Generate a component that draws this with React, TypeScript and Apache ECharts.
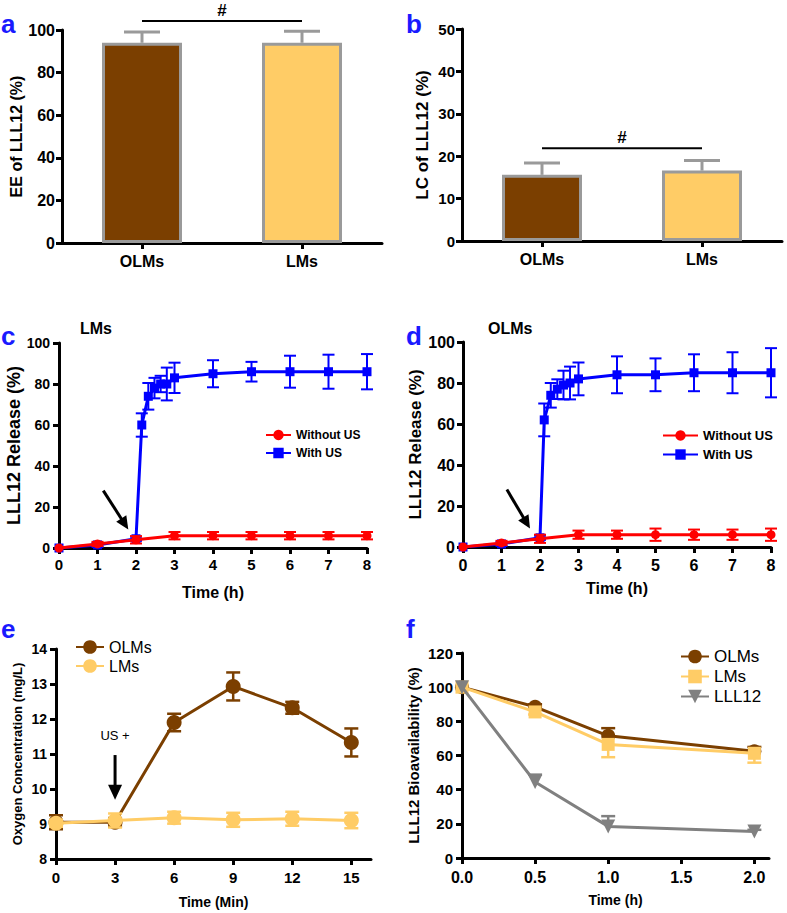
import React, { useEffect, useRef } from 'react';
import * as echarts from 'echarts';

const FONT = 'Arial, "Liberation Sans", Helvetica, sans-serif';
const BROWN = '#7B3F00';
const GOLD = '#FFCC66';
const BAR_EDGE = '#9A9A9A';
const RED = '#FF0000';
const BLUE = '#0000FF';
const GRAY = '#808080';
const LETTER_BLUE = '#1A1AFF';

// ---- panels a & b ----
const barCategories = ['OLMs', 'LMs'];
const eeMean = [94.0, 94.0];
const eeSD = [5.1, 5.4];
const lcMean = [15.6, 16.6];
const lcSD = [2.8, 2.4];

// ---- panel c (LMs) ----
const cTimeNoUS = [0, 1, 2, 3, 4, 5, 6, 7, 8];
const cNoUS = [0, 2, 4, 6, 6, 6, 6, 6, 6];
const cNoUSErr = [0, 1, 1.8, 1.8, 1.8, 1.8, 1.8, 1.8, 1.8];
const cTimeUS = [0, 1, 2, 2.15, 2.32, 2.48, 2.64, 2.8, 3, 4, 5, 6, 7, 8];
const cUS = [0, 1.5, 4.5, 60, 74, 78, 80, 80, 83, 85, 86, 86, 86, 86];
const cUSErr = [0, 1, 1, 5.7, 6.5, 5, 4, 8, 7.4, 6.6, 4.8, 7.8, 8.3, 8.6];

// ---- panel d (OLMs) ----
const dTimeNoUS = [0, 1, 2, 3, 4, 5, 6, 7, 8];
const dNoUS = [0, 2, 4, 6, 6, 6, 6, 6, 6];
const dNoUSErr = [0, 1, 2, 2, 2, 3, 2.5, 2.5, 3];
const dTimeUS = [0, 1, 2, 2.11, 2.28, 2.45, 2.61, 2.78, 3, 4, 5, 6, 7, 8];
const dUS = [0, 1.5, 4.5, 62, 74, 77, 79, 80, 82, 84, 84, 85, 85, 85];
const dUSErr = [0, 1, 1, 8, 6, 4.8, 7, 8, 8, 9, 8, 9, 10, 12];

// ---- panel e ----
const eTime = [0, 3, 6, 9, 12, 15];
const eOLMs = [9.05, 9.05, 11.9, 12.93, 12.32, 11.33];
const eOLMsErr = [0.2, 0.12, 0.25, 0.4, 0.17, 0.4];
const eLMs = [9.02, 9.1, 9.18, 9.12, 9.15, 9.1];
const eLMsErr = [0.1, 0.2, 0.17, 0.2, 0.2, 0.22];
const eXTicks = [0, 3, 6, 9, 12, 15];

// ---- panel f ----
const fTime = [0, 0.5, 1, 2];
const fOLMs = [100, 88.5, 71.5, 62.5];
const fOLMsErr = [0, 1.5, 4.5, 2.5];
const fLMs = [100, 85.5, 66.5, 61.3];
const fLMsErr = [0, 1.5, 7.5, 5.5];
const fLLL12 = [100, 44.5, 18.5, 15.5];
const fLLL12Err = [0, 4.3, 6, 1];
const fXTicks = [0, 0.5, 1, 1.5, 2];

const TRI_DOWN = 'path://M0,0L10,0L5,9Z';

function axisBase(gridIndex: number, labelSize: number, labelMargin: number) {
  return {
    gridIndex,
    axisLine: { show: true, onZero: false, lineStyle: { color: '#000', width: 3 } },
    axisTick: { show: true, inside: false, length: 6, lineStyle: { color: '#000', width: 3 } },
    axisLabel: {
      show: true, color: '#000', fontFamily: FONT, fontWeight: 'bold',
      fontSize: labelSize, margin: labelMargin,
    },
    splitLine: { show: false },
    splitArea: { show: false },
  };
}

function nameStyle(size: number) {
  return { fontSize: size, fontWeight: 'bold', color: '#000', fontFamily: FONT };
}

function errorSeries(ax: number, xs: number[], ys: number[], errs: number[], color: string,
  capHalf: number, lw: number, dir: 'up' | 'down' | 'both', z = 3) {
  return {
    type: 'custom', xAxisIndex: ax, yAxisIndex: ax, z, silent: true,
    data: xs.map((x, i) => [x, ys[i], errs[i]]),
    renderItem: (_p: any, api: any) => {
      const x = api.value(0), y = api.value(1), e = api.value(2);
      if (!e) return { type: 'group', children: [] };
      const hi = dir === 'down' ? y : y + e;
      const lo = dir === 'up' ? y : y - e;
      const a = api.coord([x, lo]);
      const b = api.coord([x, hi]);
      const st = { stroke: color, lineWidth: lw };
      const children: any[] = [
        { type: 'line', shape: { x1: a[0], y1: a[1], x2: b[0], y2: b[1] }, style: st },
      ];
      if (dir !== 'down') children.push({ type: 'line', shape: { x1: b[0] - capHalf, y1: b[1], x2: b[0] + capHalf, y2: b[1] }, style: st });
      if (dir !== 'up') children.push({ type: 'line', shape: { x1: a[0] - capHalf, y1: a[1], x2: a[0] + capHalf, y2: a[1] }, style: st });
      return { type: 'group', children };
    },
  };
}

function lineSeries(ax: number, name: string, xs: number[], ys: number[], color: string,
  symbol: string, size: number, z = 4) {
  return {
    type: 'line', name, xAxisIndex: ax, yAxisIndex: ax, z,
    data: xs.map((x, i) => [x, ys[i]]),
    symbol, symbolSize: size, showAllSymbol: true,
    lineStyle: { color, width: 3 },
    itemStyle: { color, borderWidth: 0 },
    emphasis: { disabled: true },
    silent: true,
  };
}

function sigSeries(ax: number, y: number) {
  return {
    type: 'custom', xAxisIndex: ax, yAxisIndex: ax, z: 5, silent: true,
    data: [[0, y, 1]],
    renderItem: (_p: any, api: any) => {
      const p1 = api.coord([api.value(0), api.value(1)]);
      const p2 = api.coord([api.value(2), api.value(1)]);
      return {
        type: 'group',
        children: [
          { type: 'line', shape: { x1: p1[0], y1: p1[1], x2: p2[0], y2: p2[1] }, style: { stroke: '#000', lineWidth: 2 } },
          {
            type: 'text', x: (p1[0] + p2[0]) / 2, y: p1[1] - 11,
            style: { text: '#', fill: '#000', font: `bold 17px ${FONT}`, textAlign: 'center', textVerticalAlign: 'middle', align: 'center', verticalAlign: 'middle' },
          },
        ],
      };
    },
  };
}

function arrowSeries(ax: number, pts: number[], headLen: number, headHalf: number, lw: number,
  label?: string, labelPos?: number[]) {
  return {
    type: 'custom', xAxisIndex: ax, yAxisIndex: ax, z: 6, silent: true,
    data: [pts],
    renderItem: (_p: any, api: any) => {
      const p1 = api.coord([api.value(0), api.value(1)]);
      const p2 = api.coord([api.value(2), api.value(3)]);
      const dx = p2[0] - p1[0], dy = p2[1] - p1[1];
      const len = Math.hypot(dx, dy) || 1;
      const ux = dx / len, uy = dy / len;
      const bx = p2[0] - ux * headLen, by = p2[1] - uy * headLen;
      const px = -uy, py = ux;
      const children: any[] = [
        { type: 'line', shape: { x1: p1[0], y1: p1[1], x2: bx + ux, y2: by + uy }, style: { stroke: '#000', lineWidth: lw } },
        {
          type: 'polygon',
          shape: { points: [[p2[0], p2[1]], [bx + px * headHalf, by + py * headHalf], [bx - px * headHalf, by - py * headHalf]] },
          style: { fill: '#000' },
        },
      ];
      if (label && labelPos) {
        const lp = api.coord(labelPos);
        children.push({
          type: 'text', x: lp[0], y: lp[1],
          style: { text: label, fill: '#000', font: `13px ${FONT}`, textAlign: 'center', textVerticalAlign: 'middle', align: 'center', verticalAlign: 'middle' },
        });
      }
      return { type: 'group', children };
    },
  };
}

function letter(t: string, x: number, y: number) {
  return {
    type: 'text', x, y, z: 10,
    style: { text: t, fill: LETTER_BLUE, font: `bold 26px ${FONT}`, textAlign: 'left', textVerticalAlign: 'middle', align: 'left', verticalAlign: 'middle' },
  };
}

function title(t: string, x: number, y: number) {
  return {
    type: 'text', x, y, z: 10,
    style: { text: t, fill: '#000', font: `bold 16px ${FONT}`, textAlign: 'left', textVerticalAlign: 'middle', align: 'left', verticalAlign: 'middle' },
  };
}

const stripName = (n: string) => n.slice(2);

function buildOption() {
  const b0 = axisBase(0, 16, 10);
  const b1 = axisBase(1, 16, 10);
  const xAxis: any[] = [
    { ...b0, type: 'category', data: barCategories, axisTick: { ...b0.axisTick, alignWithLabel: true } },
    { ...b1, type: 'category', data: barCategories, axisTick: { ...b1.axisTick, alignWithLabel: true } },
    { ...axisBase(2, 15, 9), type: 'value', min: 0, max: 8, interval: 1,
      name: 'Time (h)', nameLocation: 'middle', nameGap: 36, nameTextStyle: nameStyle(16) },
    { ...axisBase(3, 16, 10), type: 'value', min: 0, max: 8, interval: 1,
      name: 'Time (h)', nameLocation: 'middle', nameGap: 33, nameTextStyle: nameStyle(16) },
  ];
  const be = axisBase(4, 15, 11);
  xAxis.push({
    ...be, type: 'value', min: 0, max: 16,
    axisLabel: { ...be.axisLabel, customValues: eXTicks },
    axisTick: { ...be.axisTick, customValues: eXTicks },
    name: 'Time (Min)', nameLocation: 'middle', nameGap: 36, nameTextStyle: nameStyle(14),
  });
  const bf = axisBase(5, 16, 11);
  xAxis.push({
    ...bf, type: 'value', min: 0, max: 2.1,
    axisLabel: { ...bf.axisLabel, customValues: fXTicks, formatter: (v: number) => v.toFixed(1) },
    axisTick: { ...bf.axisTick, customValues: fXTicks },
    name: 'Time (h)', nameLocation: 'middle', nameGap: 35, nameTextStyle: nameStyle(14),
  });

  const yAxis: any[] = [
    { ...axisBase(0, 16, 7), type: 'value', min: 0, max: 100, interval: 20,
      name: 'EE of LLL12 (%)', nameLocation: 'middle', nameGap: 34, nameTextStyle: nameStyle(16) },
    { ...axisBase(1, 15, 7), type: 'value', min: 0, max: 50, interval: 10,
      name: 'LC of LLL12 (%)', nameLocation: 'middle', nameGap: 31, nameTextStyle: nameStyle(17) },
    { ...axisBase(2, 14, 9), type: 'value', min: 0, max: 100, interval: 20,
      name: 'LLL12 Release (%)', nameLocation: 'middle', nameGap: 32, nameTextStyle: nameStyle(18) },
    { ...axisBase(3, 16, 8), type: 'value', min: 0, max: 100, interval: 20,
      name: 'LLL12 Release (%)', nameLocation: 'middle', nameGap: 34, nameTextStyle: nameStyle(17) },
    { ...axisBase(4, 14, 9), type: 'value', min: 8, max: 14, interval: 1,
      name: 'Oxygen Concentration (mg/L)', nameLocation: 'middle', nameGap: 32, nameTextStyle: nameStyle(13) },
    { ...axisBase(5, 15, 9), type: 'value', min: 0, max: 120, interval: 20,
      name: 'LLL12 Bioavailability (%)', nameLocation: 'middle', nameGap: 41, nameTextStyle: nameStyle(15) },
  ];

  const barSeries = (ax: number, means: number[]) => ({
    type: 'bar', xAxisIndex: ax, yAxisIndex: ax, barWidth: 80, z: 2, silent: true,
    data: means.map((v, i) => ({ value: v, itemStyle: { color: i === 0 ? BROWN : GOLD, borderColor: BAR_EDGE, borderWidth: 3 } })),
  });

  const series: any[] = [
    // a
    barSeries(0, eeMean),
    errorSeries(0, [0, 1], eeMean, eeSD, BAR_EDGE, 18, 3, 'up'),
    sigSeries(0, 104.2),
    // b
    barSeries(1, lcMean),
    errorSeries(1, [0, 1], lcMean, lcSD, BAR_EDGE, 18, 3, 'up'),
    sigSeries(1, 21.9),
    // c
    errorSeries(2, cTimeUS, cUS, cUSErr, BLUE, 6, 2, 'both', 3),
    lineSeries(2, 'c:With US', cTimeUS, cUS, BLUE, 'rect', 9, 4),
    errorSeries(2, cTimeNoUS, cNoUS, cNoUSErr, RED, 6, 2, 'both', 5),
    lineSeries(2, 'c:Without US', cTimeNoUS, cNoUS, RED, 'circle', 9, 6),
    arrowSeries(2, [1.15, 28, 1.8, 9], 13, 6, 3),
    // d
    errorSeries(3, dTimeUS, dUS, dUSErr, BLUE, 6, 2, 'both', 3),
    lineSeries(3, 'd:With US', dTimeUS, dUS, BLUE, 'rect', 9, 4),
    errorSeries(3, dTimeNoUS, dNoUS, dNoUSErr, RED, 6, 2, 'both', 5),
    lineSeries(3, 'd:Without US', dTimeNoUS, dNoUS, RED, 'circle', 9, 6),
    arrowSeries(3, [1.14, 28, 1.74, 9], 13, 6, 3),
    // e
    errorSeries(4, eTime, eOLMs, eOLMsErr, BROWN, 7, 2.5, 'both', 3),
    lineSeries(4, 'e:OLMs', eTime, eOLMs, BROWN, 'circle', 15, 4),
    errorSeries(4, eTime, eLMs, eLMsErr, GOLD, 7, 2.5, 'both', 5),
    lineSeries(4, 'e:LMs', eTime, eLMs, GOLD, 'circle', 15, 6),
    arrowSeries(4, [3, 10.97, 3, 9.69], 15, 7, 3, 'US +', [3, 11.52]),
    // f
    errorSeries(5, fTime, fOLMs, fOLMsErr, BROWN, 7, 2.5, 'up', 3),
    lineSeries(5, 'f:OLMs', fTime, fOLMs, BROWN, 'circle', 14, 4),
    errorSeries(5, fTime, fLMs, fLMsErr, GOLD, 7, 2.5, 'down', 5),
    lineSeries(5, 'f:LMs', fTime, fLMs, GOLD, 'rect', 13, 6),
    errorSeries(5, fTime, fLLL12, fLLL12Err, GRAY, 7, 2.5, 'up', 7),
    lineSeries(5, 'f:LLL12', fTime, fLLL12, GRAY, TRI_DOWN, 14, 8),
  ];

  const legendBase = {
    orient: 'vertical', selectedMode: false, padding: 0, formatter: stripName,
  };

  const legend: any[] = [
    { ...legendBase, data: ['c:Without US', 'c:With US'], left: 265, top: 429, itemWidth: 25, itemHeight: 13, itemGap: 6,
      textStyle: { color: '#000', fontFamily: FONT, fontWeight: 'bold', fontSize: 12 } },
    { ...legendBase, data: ['d:Without US', 'd:With US'], left: 662, top: 429, itemWidth: 35, itemHeight: 13, itemGap: 6,
      textStyle: { color: '#000', fontFamily: FONT, fontWeight: 'bold', fontSize: 13 } },
    { ...legendBase, data: ['e:OLMs', 'e:LMs'], left: 75, top: 639, itemWidth: 28, itemHeight: 17, itemGap: 3,
      textStyle: { color: '#000', fontFamily: FONT, fontSize: 16 } },
    { ...legendBase, data: ['f:OLMs', 'f:LMs', 'f:LLL12'], left: 680, top: 648, itemWidth: 28, itemHeight: 17, itemGap: 3,
      textStyle: { color: '#000', fontFamily: FONT, fontSize: 17 } },
  ];

  const grid = [
    { left: 62, top: 30, width: 320, height: 213 },
    { left: 462, top: 29, width: 320, height: 212 },
    { left: 59, top: 343, width: 308, height: 205 },
    { left: 463, top: 342, width: 308, height: 205 },
    { left: 56, top: 649, width: 315, height: 210 },
    { left: 462, top: 653, width: 307, height: 205 },
  ].map((g) => ({ ...g, containLabel: false, outerBoundsMode: 'none', show: false }));

  const graphic = [
    letter('a', 1, 24),
    letter('b', 406, 24),
    letter('c', 1, 336),
    letter('d', 406, 336),
    letter('e', 1, 629),
    letter('f', 406, 629),
    title('LMs', 80, 328),
    title('OLMs', 488, 328),
  ];

  return {
    animation: false,
    backgroundColor: '#ffffff',
    textStyle: { fontFamily: FONT },
    grid,
    xAxis,
    yAxis,
    series,
    legend,
    graphic,
  };
}

export default function App() {
  const ref = useRef<HTMLDivElement>(null);
  useEffect(() => {
    if (!ref.current) return;
    const chart = echarts.init(ref.current, null, { renderer: 'svg' });
    chart.setOption(buildOption() as any);
    return () => chart.dispose();
  }, []);
  return (
    <div
      ref={ref}
      style={{ position: 'absolute', left: 0, top: 0, width: 787, height: 913, background: '#fff' }}
    />
  );
}
